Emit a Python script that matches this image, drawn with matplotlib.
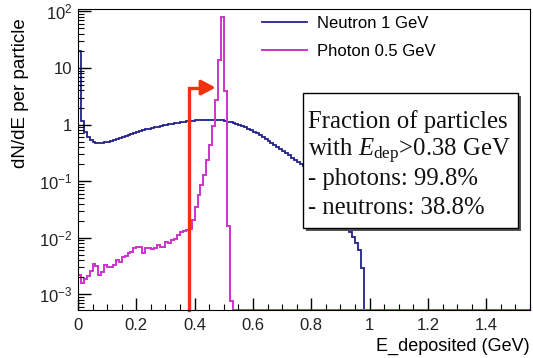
import numpy as np
import matplotlib.pyplot as plt
from matplotlib.patches import Rectangle
from matplotlib.ticker import LogLocator, FixedLocator, MultipleLocator, NullFormatter

plt.rcParams['font.family'] = ['Liberation Sans', 'DejaVu Sans']
plt.rcParams['mathtext.fontset'] = 'custom'
plt.rcParams['mathtext.it'] = 'Liberation Serif:italic'
plt.rcParams['mathtext.rm'] = 'Liberation Serif'

# histogram binning: 0.01 GeV bins from 0 to 1.55 GeV
bin_width = 0.01
n_bins = 155

# neutron 1 GeV, dN/dE per particle (bins 0..97, empty afterwards)
neutron = [20, 1.15, 0.75, 0.6, 0.53, 0.5, 0.48, 0.47, 0.48, 0.49,
           0.5, 0.52, 0.54, 0.56, 0.58, 0.61, 0.64, 0.66, 0.69, 0.72,
           0.75, 0.77, 0.79, 0.82, 0.84, 0.87, 0.89, 0.92, 0.94, 0.97,
           0.99, 1.01, 1.04, 1.06, 1.08, 1.10, 1.12, 1.14, 1.16, 1.17,
           1.18, 1.19, 1.20, 1.21, 1.22, 1.22, 1.22, 1.21, 1.20, 1.18,
           1.16, 1.13, 1.10, 1.06, 1.02, 0.98, 0.94, 0.89, 0.84, 0.79,
           0.75, 0.70, 0.66, 0.61, 0.56, 0.52, 0.48, 0.44, 0.40, 0.37,
           0.34, 0.31, 0.29, 0.26, 0.24, 0.22, 0.20, 0.185, 0.165, 0.145,
           0.128, 0.112, 0.098, 0.085, 0.073, 0.062, 0.053, 0.045, 0.038, 0.032,
           0.026, 0.021, 0.017, 0.0126, 0.0105, 0.0080, 0.0060, 0.0029]

# photon 0.5 GeV, dN/dE per particle (bins 0..52, empty afterwards)
photon = [2.2e-3, 1.6e-3, 1.9e-3, 2.1e-3, 2.6e-3, 3.4e-3, 3.2e-3, 2.2e-3, 2.5e-3, 3.3e-3,
          3.0e-3, 3.1e-3, 3.3e-3, 4.0e-3, 3.8e-3, 4.5e-3, 4.7e-3, 5.3e-3, 5.6e-3, 6.5e-3,
          6.9e-3, 6.8e-3, 5.3e-3, 6.6e-3, 6.5e-3, 6.4e-3, 6.6e-3, 7.6e-3, 7.0e-3, 7.0e-3,
          8.4e-3, 8.0e-3, 9.3e-3, 9.5e-3, 1.1e-2, 1.25e-2, 1.3e-2, 1.4e-2, 1.45e-2, 2.1e-2,
          3.5e-2, 5.7e-2, 8.5e-2, 0.127, 0.24, 0.43, 0.96, 2.7, 13.8, 81,
          3.9, 0.016, 7.5e-4]

cut = 0.38
arrow_y = 4.5
box_lines = ['Fraction of particles',
             r'with $E_{\mathregular{dep}}$>0.38 GeV',
             '- photons: 99.8%',
             '- neutrons: 38.8%']

ymin, ymax = 5.3e-4, 110
edges = np.arange(n_bins + 1) * bin_width

def filled(vals):
    h = np.zeros(n_bins)
    h[:len(vals)] = vals
    # empty bins sit on the bottom of the frame, as in ROOT
    return np.where(h > 0, h, ymin)

fig = plt.figure(figsize=(5.33, 3.58), dpi=100)
ax = fig.add_axes([78 / 533, 1 - 310 / 358, 452 / 533, 301 / 358])

ax.stairs(filled(neutron), edges, baseline=ymin, color='#22228a', lw=1.3,
          label='Neutron 1 GeV')
ax.stairs(filled(photon), edges, baseline=ymin, color='#cc33cc', lw=1.4,
          label='Photon 0.5 GeV')

# cut marker
ax.plot([cut, cut, 0.43], [ymin, arrow_y, arrow_y], color='#f5300f', lw=2.4,
        solid_joinstyle='miter', clip_on=False)
ax.annotate('', xy=(0.472, arrow_y), xytext=(0.42, arrow_y),
            arrowprops=dict(arrowstyle='-|>,head_length=0.85,head_width=0.45',
                            color='#f5300f', lw=2.4, shrinkA=0, shrinkB=0))

ax.set_yscale('log')
ax.set_xlim(0, n_bins * bin_width)
ax.set_ylim(ymin, ymax)

ax.xaxis.set_major_locator(MultipleLocator(0.2))
ax.xaxis.set_minor_locator(MultipleLocator(0.05))
ax.xaxis.set_major_formatter(plt.FuncFormatter(lambda v, p: '%g' % v))
ax.yaxis.set_major_locator(FixedLocator([1e-3, 1e-2, 1e-1, 1, 10, 100]))
ax.yaxis.set_minor_locator(LogLocator(base=10, subs=np.arange(2, 10)))
ax.yaxis.set_minor_formatter(NullFormatter())

def ylab(v, p):
    if v in (1, 10):
        return '%g' % v
    return r'$\mathregular{10^{%d}}$' % round(np.log10(v))
ax.yaxis.set_major_formatter(plt.FuncFormatter(ylab))

ax.tick_params(which='both', direction='in', top=False, right=False,
               labelsize=12, labelcolor='#222222', pad=6)
ax.tick_params(which='major', length=9, width=1)
ax.tick_params(which='minor', length=4.5, width=0.8)
ax.tick_params(axis='y', pad=4)

ax.set_xlabel('E_deposited (GeV)', fontsize=13, loc='right', labelpad=3)
ax.set_ylabel('dN/dE per particle', fontsize=13.5, loc='top')
ax.yaxis.set_label_coords(-0.108, 0.97)

ax.legend(loc='upper left', bbox_to_anchor=(262 / 533, 1 - 16 / 358),
          bbox_transform=fig.transFigure, frameon=False, fontsize=12,
          handlelength=2.7, handletextpad=0.6, labelspacing=0.8,
          borderpad=0, borderaxespad=0)

# text box with shadow
bx0, by0, bx1, by1 = 303, 93, 518, 228
W, H = 533, 358
fig.add_artist(Rectangle(((bx0 + 3) / W, 1 - (by1 + 3) / H), (bx1 - bx0) / W,
                         (by1 - by0) / H, transform=fig.transFigure,
                         facecolor='#555555', edgecolor='none', zorder=5))
fig.add_artist(Rectangle((bx0 / W, 1 - by1 / H), (bx1 - bx0) / W,
                         (by1 - by0) / H, transform=fig.transFigure,
                         facecolor='white', edgecolor='black', lw=1, zorder=6))
for i, line in enumerate(box_lines):
    fig.text(308 / W, 1 - (128 + 28.5 * i) / H, line, fontsize=17.8,
             family='Liberation Serif', ha='left', va='baseline',
             color='#111111', zorder=7)

fig.savefig('out.png', dpi=100)
